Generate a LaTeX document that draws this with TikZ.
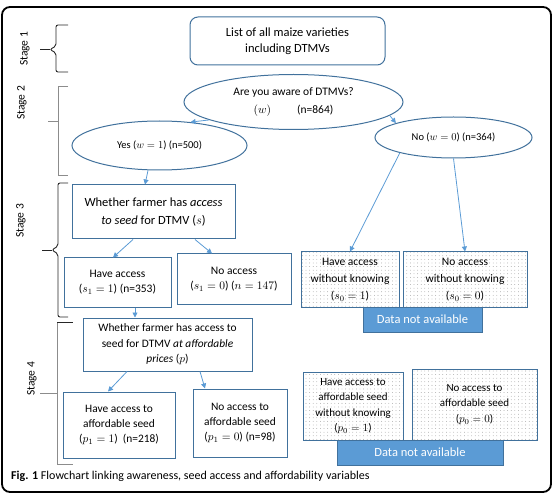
\RequirePackage{fix-cm}
\documentclass[tikz,border=0pt]{standalone}
\usepackage{fontspec}
\setmainfont{Carlito}
\usetikzlibrary{arrows.meta,patterns.meta,shapes.geometric,calc}
\definecolor{bbord}{HTML}{41719C}
\definecolor{barr}{HTML}{5B9BD5}
\definecolor{bfill}{HTML}{5B9BD5}
\definecolor{brk}{HTML}{8C8C8C}
\newcommand{\fsz}[2]{\fontsize{#1}{#2}\selectfont}
\begin{document}
\begin{tikzpicture}[x=1pt,y=-1pt,
 box/.style={draw=bbord,line width=1pt,align=center,inner sep=1pt},
 ell/.style={draw=bbord,line width=1pt,ellipse,align=center,inner sep=0pt},
 dotbox/.style={box,pattern={Dots[distance=3.6pt,radius=0.4pt]},pattern color=gray!90},
 nabox/.style={draw=bbord,fill=bfill,text=white,line width=1pt,inner sep=0pt,font=\fsz{12.5}{15}},
 arr/.style={draw=barr,line width=0.8pt,-{Triangle[width=5pt,length=5pt]}},
 brc/.style={line width=0.9pt,draw=brk},
 brcdark/.style={line width=0.9pt,draw=black!85},
 stg/.style={rotate=90,font=\fsz{11.5}{13}},
]
\useasboundingbox (0,0) rectangle (557,497);
\draw[line width=1.8pt,rounded corners=8pt] (2,7) rectangle (551,492);

% nodes
\node[box,rounded corners=8pt,minimum width=195pt,minimum height=48pt,font=\fsz{12.5}{16}] (list) at (287.5,41) {List of all maize varieties\\including DTMVs};
\node[ell,minimum width=219pt,minimum height=55pt,font=\fsz{11.5}{18}] (aware) at (293.5,102) {Are you aware of DTMVs?\\$(w)$\hspace{26pt}(n=864)};
\node[ell,minimum width=175pt,minimum height=49pt,font=\fsz{10.5}{13}] (yes) at (159.5,145.5) {Yes ($w=1$) (n=500)};
\node[ell,minimum width=157pt,minimum height=41pt,font=\fsz{10.5}{13}] (no) at (453.5,137.5) {No ($w=0$) (n=364)};

\node[box,minimum width=163pt,minimum height=54pt,font=\fsz{12.5}{18}] (q3) at (153.5,212) {Whether farmer has \textit{access}\\\textit{to seed} for DTMV ($s$)};
\node[box,minimum width=107pt,minimum height=49pt,font=\fsz{11.5}{15}] (h3a) at (117.5,282.5) {Have access\\($s_1=1$) (n=353)};
\node[box,minimum width=114pt,minimum height=50pt,font=\fsz{11.5}{15}] (h3b) at (234,279) {No access\\($s_1=0$) ($n=147$)};
\node[dotbox,minimum width=98pt,minimum height=55pt,font=\fsz{11.5}{17}] (d3a) at (350,279.5) {Have access\\without knowing\\($s_0=1$)};
\node[dotbox,minimum width=124pt,minimum height=55pt,font=\fsz{11.5}{17}] (d3b) at (465,279.5) {No access\\without knowing\\($s_0=0$)};
\node[nabox,minimum width=119pt,minimum height=25pt] (dn3) at (422.5,319.5) {Data not available};

\node[box,minimum width=169pt,minimum height=53pt,font=\fsz{11.4}{15.5}] (q4) at (167.5,344.5) {Whether farmer has access to\\seed for DTMV \textit{at affordable}\\\textit{prices} ($p$)};
\node[box,minimum width=112pt,minimum height=66pt,font=\fsz{11.4}{15}] (h4a) at (119,425) {Have access to\\affordable seed\\($p_1=1$)\ \ (n=218)};
\node[box,minimum width=94pt,minimum height=68pt,font=\fsz{11.4}{15}] (h4b) at (240,423) {No access to\\affordable seed\\($p_1=0$) (n=98)};
\node[dotbox,minimum width=100pt,minimum height=68pt,font=\fsz{11}{15.5}] (d4a) at (353,406) {Have access to\\affordable seed\\without knowing\\($p_0=1$)};
\node[dotbox,minimum width=125pt,minimum height=71pt,font=\fsz{11}{15.5}] (d4b) at (474.5,404.5) {No access to\\affordable seed\\($p_0=0$)};
\node[nabox,minimum width=166pt,minimum height=25pt] (dn4) at (420,452.5) {Data not available};

% arrows
\draw[arr] (aware.192) -- (yes.37);
\draw[arr] (aware.-8) -- (no.166);
\draw[arr] ([xshift=-11.5pt]yes.south) -- ([xshift=-8.5pt]q3.north);
\draw[arr] ([xshift=-20.5pt]q3.south) -- ([xshift=-4.5pt]h3a.north);
\draw[arr] ([xshift=41.5pt]q3.south) -- ([xshift=-22pt]h3b.north);
\draw[arr] (no.196) -- (d3a.north);
\draw[arr] (no.south) -- (d3b.north);
\draw[arr] ([xshift=17.5pt]h3a.south) -- ([xshift=17.5pt]h3a.south |- q4.north);
\draw[arr] ([xshift=-40.5pt]q4.south) -- ([xshift=-11pt]h4a.north);
\draw[arr] ([xshift=32.5pt]q4.south) -- ([xshift=-35pt]h4b.north);

% stage brackets
\draw[brcdark,rounded corners=2pt] (68,25) -- (56,25) -- (56,46) -- (50,49.5) -- (56,53) -- (56,72) -- (68,72);
\draw[brcdark] (40,49.5) -- (50,49.5);
\draw[brc] (68,86) -- (58,86) -- (58,175) -- (68,175);
\draw[brc] (48,121) -- (58,121);
\draw[brcdark,rounded corners=2pt] (68,183) -- (58,183) -- (58,246) -- (52,250) -- (58,254) -- (58,317) -- (68,317);
\draw[brcdark] (42,250) -- (52,250);
\draw[brc] (57,322) -- (57,464) -- (73,464);
\draw[brcdark] (57,322) -- (73,322);
\draw[brc] (40,393) -- (57,393);

\node[stg] (s1) at (25,49) {Stage 1};
\node[stg] (s2) at (22,103) {Stage 2};
\node[stg] (s3) at (21,221) {Stage 3};
\node[stg] (s4) at (32,379) {Stage 4};

\node[anchor=base west,font=\fsz{12}{14},inner sep=0pt] (cap) at (11,479) {\textbf{Fig. 1} Flowchart linking awareness, seed access and affordability variables};
\end{tikzpicture}
\end{document}
